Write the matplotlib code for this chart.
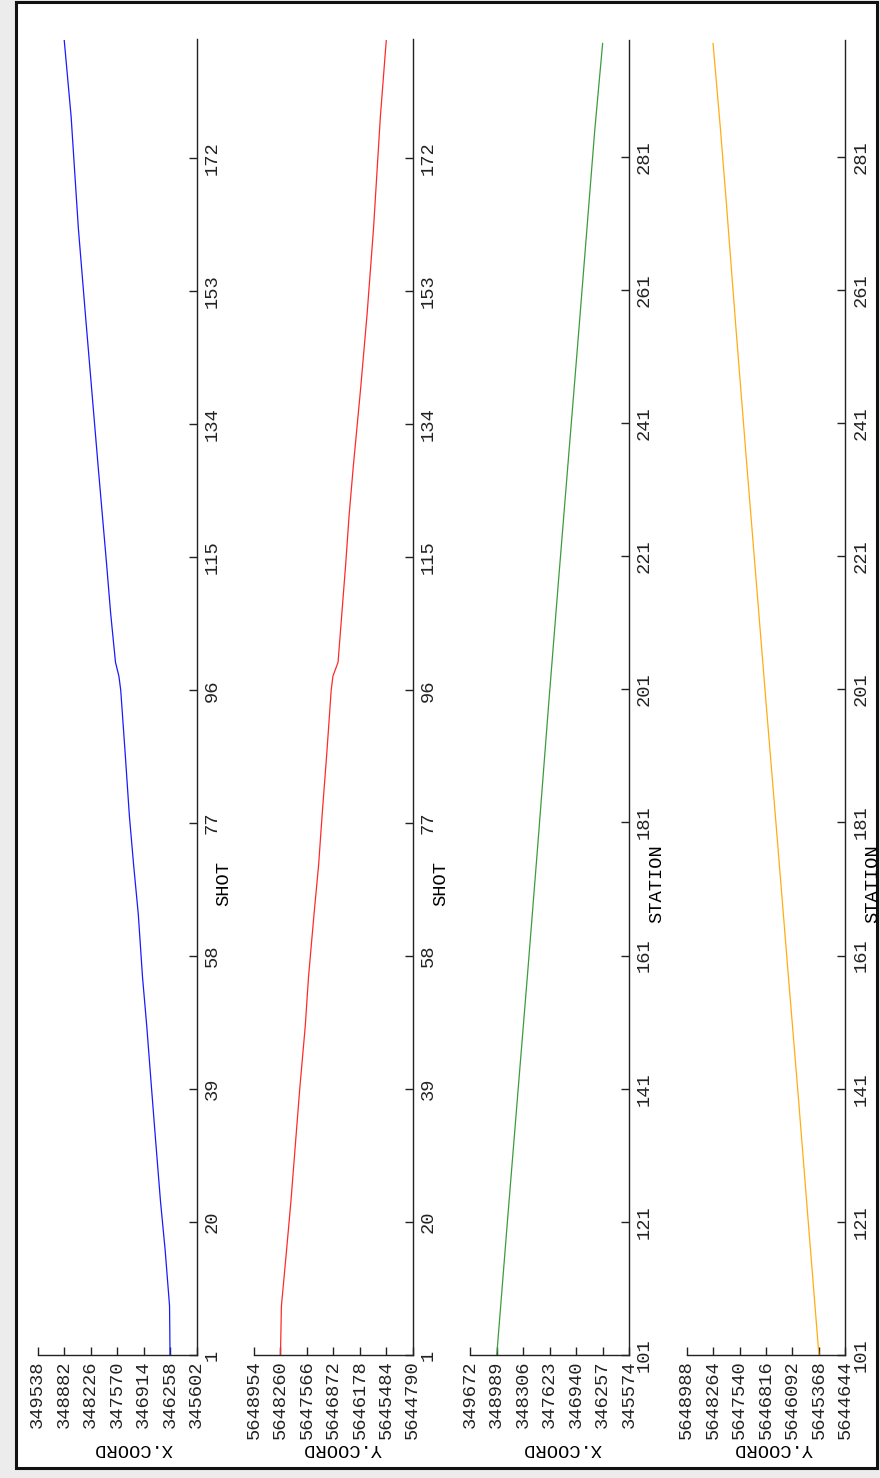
import matplotlib.pyplot as plt
from matplotlib.patches import Rectangle

# Shot-point coordinates
shot = [1, 8, 16, 23, 32, 39, 48, 55, 64, 71, 78, 87, 96, 98, 100,
        107, 114, 121, 128, 139, 150, 162, 178, 189]
shot_x = [346258, 346270, 346379, 346495, 346620, 346715, 346835, 346940,
          347045, 347160, 347265, 347370, 347480, 347525, 347610, 347730,
          347830, 347935, 348040, 348200, 348360, 348530, 348710, 348882]
shot_y = [5648260, 5648235, 5648100, 5647985, 5647856, 5647755, 5647610,
          5647525, 5647380, 5647260, 5647170, 5647045, 5646930, 5646885,
          5646750, 5646650, 5646550, 5646460, 5646350, 5646160, 5645985,
          5645820, 5645640, 5645484]

# Receiver-station coordinates
station = [101, 121, 140, 159, 178, 198, 217, 236, 255, 274, 285, 298]
station_x = [348989, 348715, 348450, 348184, 347925, 347660, 347400, 347135,
             346870, 346610, 346460, 346257]
station_y = [5645368, 5645660, 5645935, 5646220, 5646500, 5646800, 5647080,
             5647360, 5647635, 5647900, 5648060, 5648264]

# Axis ticks
shot_ticks = [1, 20, 39, 58, 77, 96, 115, 134, 153, 172]
station_ticks = [101, 121, 141, 161, 181, 201, 221, 241, 261, 281]
shot_x_ticks = [345602, 346258, 346914, 347570, 348226, 348882, 349538]
shot_y_ticks = [5644790, 5645484, 5646178, 5646872, 5647566, 5648260, 5648954]
sta_x_ticks = [345574, 346257, 346940, 347623, 348306, 348989, 349672]
sta_y_ticks = [5644644, 5645368, 5646092, 5646816, 5647540, 5648264, 5648988]

W, H = 880, 1478
plt.rcParams['font.family'] = ['Liberation Mono', 'DejaVu Sans Mono']
plt.rcParams['font.size'] = 13.5

fig = plt.figure(figsize=(W / 100, H / 100), dpi=100, facecolor='#ececec')
fig.patches.append(Rectangle((15.5 / W, 1 - 1468 / H), 861.5 / W, 1466 / H,
                             transform=fig.transFigure, facecolor='white',
                             edgecolor='#111111', linewidth=2.2, zorder=-1))

panels = [
    (shot, shot_x, '#1a1aff', shot_ticks, shot_x_ticks, (1, 189), 'SHOT', 'X.COORD', 96),
    (shot, shot_y, '#ff2a2a', shot_ticks, shot_y_ticks, (1, 189), 'SHOT', 'Y.COORD', 88),
    (station, station_x, '#3c9c3c', station_ticks, sta_x_ticks, (101, 298.6), 'STATION', 'X.COORD', 92),
    (station, station_y, '#ffad14', station_ticks, sta_y_ticks, (101, 298.6), 'STATION', 'Y.COORD', 87),
]

ax_w, top, bottom = 158.8, 39.5, 1355
for i, (pos, vals, color, pticks, cticks, plim, plabel, clabel, cl_off) in enumerate(panels):
    left = 37.7 + 216.3 * i
    ax = fig.add_axes([left / W, 1 - bottom / H, ax_w / W, (bottom - top) / H])
    ax.plot(vals, pos, color=color, linewidth=0.9)

    ax.set_xlim(cticks[-1], cticks[0])
    ax.set_ylim(*plim)
    ax.set_xticks(cticks)
    ax.set_xticklabels([str(t) for t in cticks])
    ax.set_yticks(pticks)
    ax.set_yticklabels([str(t) for t in pticks])

    for side in ['top', 'left']:
        ax.spines[side].set_visible(False)
    for side in ['bottom', 'right']:
        ax.spines[side].set_color('#222222')
        ax.spines[side].set_linewidth(1.0)

    ax.tick_params(axis='x', direction='in', length=6, width=1, pad=4,
                   labelrotation=90, colors='#222222')
    ax.tick_params(axis='y', direction='in', length=6, width=1, pad=5,
                   labelrotation=90, left=False, right=True,
                   labelleft=False, labelright=True, colors='#222222')
    for lab in ax.get_yticklabels():
        lab.set_verticalalignment('center')
        lab.set_horizontalalignment('left')

    # shot / station label beside the right axis
    ax.set_ylabel(plabel, rotation=90)
    ax.yaxis.set_label_position('right')
    ax.yaxis.set_label_coords((ax_w + 27.5) / ax_w, (bottom - 884) / (bottom - top))
    ax.yaxis.label.set_verticalalignment('center')
    ax.yaxis.label.set_horizontalalignment('center')

    # coordinate label under the value axis, upside down
    ax.set_xlabel(clabel, rotation=180)
    ax.xaxis.set_label_coords(cl_off / ax_w, -(1448 - bottom) / (bottom - top))
    ax.xaxis.label.set_verticalalignment('center')
    ax.xaxis.label.set_horizontalalignment('center')

fig.savefig('out.png', dpi=100, facecolor=fig.get_facecolor())
